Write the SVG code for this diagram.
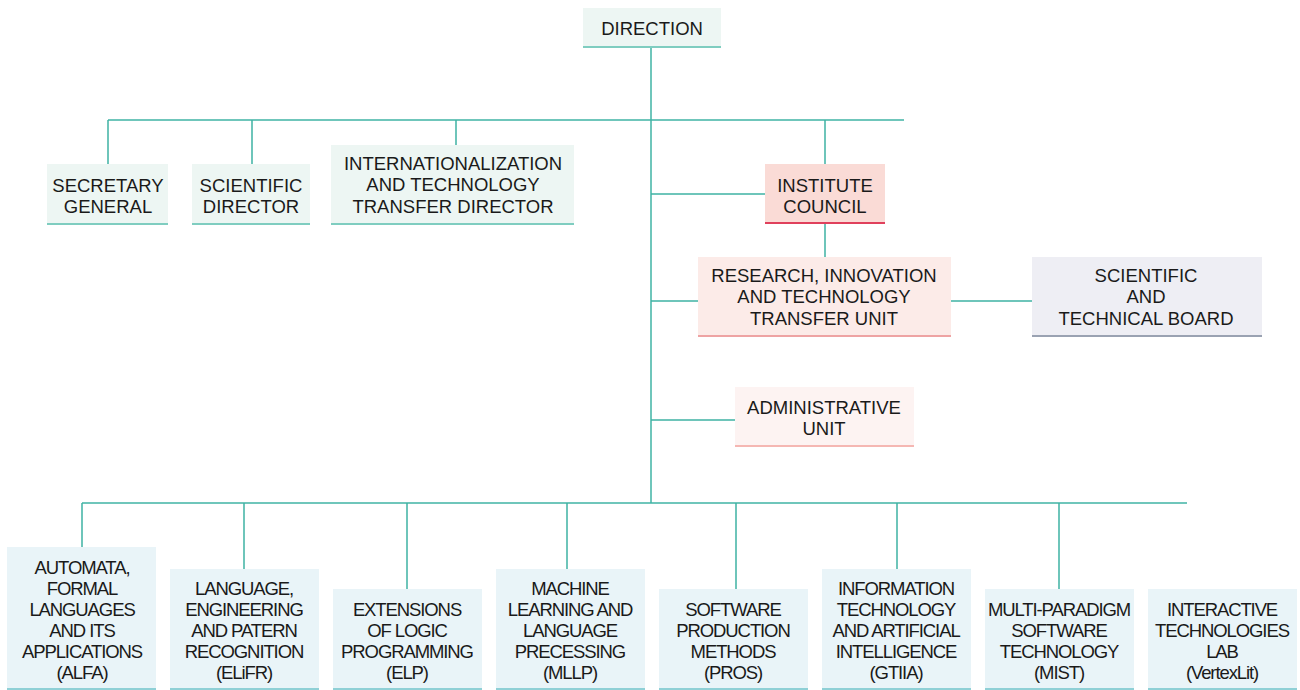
<svg xmlns="http://www.w3.org/2000/svg" width="1300" height="690" viewBox="0 0 1300 690">
<style>
text{font-family:"Liberation Sans",Arial,sans-serif;font-size:18.5px;fill:#1a1a1a;text-anchor:middle}
.g rect{fill:#edf6f3}.g line{stroke:#7fcdc0;stroke-width:2}
.b rect{fill:#e9f4f8}.b line{stroke:#8fd0d6;stroke-width:2}
.b text{letter-spacing:-1.1px}
.ic rect{fill:#fadbd6}.ic line{stroke:#e0405c;stroke-width:2}
.ru rect{fill:#fcebe8}.ru line{stroke:#eea3a3;stroke-width:2}
.au rect{fill:#fdf3f2}.au line{stroke:#f5b7b3;stroke-width:2}
.sb rect{fill:#eeeef4}.sb line{stroke:#9aa2b2;stroke-width:2}
#connectors path{fill:none;stroke:#3fb3a4;stroke-width:1.5}
</style>
<g id="connectors">
<path d="M651 47V503"/>
<path d="M108 120H904"/>
<path d="M108 120V165M252 120V165M456 120V145M825 120V165"/>
<path d="M651 194H769M825 223V257M651 301H703M951 301H1040M651 420H740"/>
<path d="M82 503H1187"/>
<path d="M82 503V547M244 503V569M407 503V589M567 503V569M736 503V589M897 503V569M1059 503V589"/>
</g>
<g id="direction" class="g"><rect x="583" y="8" width="138" height="39"/><line x1="583" y1="47" x2="721" y2="47"/><text x="652" y="35">DIRECTION</text></g>
<g id="secretary" class="g"><rect x="47" y="164" width="121" height="60"/><line x1="47" y1="224" x2="168" y2="224"/><text x="108" y="192">SECRETARY</text><text x="108" y="213">GENERAL</text></g>
<g id="scidir" class="g"><rect x="192" y="164" width="118" height="60"/><line x1="192" y1="224" x2="310" y2="224"/><text x="251" y="192">SCIENTIFIC</text><text x="251" y="213">DIRECTOR</text></g>
<g id="intl" class="g"><rect x="331" y="145" width="243" height="79"/><line x1="331" y1="224" x2="574" y2="224"/><text x="453" y="170">INTERNATIONALIZATION</text><text x="453" y="191">AND TECHNOLOGY</text><text x="453" y="213">TRANSFER DIRECTOR</text></g>
<g id="council" class="ic"><rect x="765" y="164" width="120" height="59"/><line x1="765" y1="223" x2="885" y2="223"/><text x="825" y="192">INSTITUTE</text><text x="825" y="213">COUNCIL</text></g>
<g id="research" class="ru"><rect x="698" y="257" width="253" height="79"/><line x1="698" y1="336" x2="951" y2="336"/><text x="824" y="282">RESEARCH, INNOVATION</text><text x="824" y="303">AND TECHNOLOGY</text><text x="824" y="325">TRANSFER UNIT</text></g>
<g id="board" class="sb"><rect x="1032" y="257" width="230" height="79"/><line x1="1032" y1="336" x2="1262" y2="336"/><text x="1146" y="282">SCIENTIFIC</text><text x="1146" y="303">AND</text><text x="1146" y="325">TECHNICAL BOARD</text></g>
<g id="admin" class="au"><rect x="735" y="387" width="179" height="59"/><line x1="735" y1="446" x2="914" y2="446"/><text x="824" y="414">ADMINISTRATIVE</text><text x="824" y="435">UNIT</text></g>
<g id="alfa" class="b"><rect x="7" y="547" width="149" height="143"/><line x1="7" y1="689" x2="156" y2="689"/><text x="82" y="574">AUTOMATA,</text><text x="82" y="595">FORMAL</text><text x="82" y="616">LANGUAGES</text><text x="82" y="637">AND ITS</text><text x="82" y="658">APPLICATIONS</text><text x="82" y="679">(ALFA)</text></g>
<g id="elifr" class="b"><rect x="170" y="569" width="149" height="121"/><line x1="170" y1="689" x2="319" y2="689"/><text x="244" y="595">LANGUAGE,</text><text x="244" y="616">ENGINEERING</text><text x="244" y="637">AND PATERN</text><text x="244" y="658">RECOGNITION</text><text x="244" y="679">(ELiFR)</text></g>
<g id="elp" class="b"><rect x="333" y="589" width="149" height="101"/><line x1="333" y1="689" x2="482" y2="689"/><text x="407" y="616">EXTENSIONS</text><text x="407" y="637">OF LOGIC</text><text x="407" y="658">PROGRAMMING</text><text x="407" y="679">(ELP)</text></g>
<g id="mllp" class="b"><rect x="496" y="569" width="149" height="121"/><line x1="496" y1="689" x2="645" y2="689"/><text x="570" y="595">MACHINE</text><text x="570" y="616">LEARNING AND</text><text x="570" y="637">LANGUAGE</text><text x="570" y="658">PRECESSING</text><text x="570" y="679">(MLLP)</text></g>
<g id="pros" class="b"><rect x="659" y="589" width="149" height="101"/><line x1="659" y1="689" x2="808" y2="689"/><text x="733" y="616">SOFTWARE</text><text x="733" y="637">PRODUCTION</text><text x="733" y="658">METHODS</text><text x="733" y="679">(PROS)</text></g>
<g id="gtiia" class="b"><rect x="822" y="569" width="149" height="121"/><line x1="822" y1="689" x2="971" y2="689"/><text x="896" y="595">INFORMATION</text><text x="896" y="616">TECHNOLOGY</text><text x="896" y="637">AND ARTIFICIAL</text><text x="896" y="658">INTELLIGENCE</text><text x="896" y="679">(GTIIA)</text></g>
<g id="mist" class="b"><rect x="985" y="589" width="149" height="101"/><line x1="985" y1="689" x2="1134" y2="689"/><text x="1059" y="616">MULTI-PARADIGM</text><text x="1059" y="637">SOFTWARE</text><text x="1059" y="658">TECHNOLOGY</text><text x="1059" y="679">(MIST)</text></g>
<g id="vertexlit" class="b"><rect x="1148" y="589" width="149" height="101"/><line x1="1148" y1="689" x2="1297" y2="689"/><text x="1222" y="616">INTERACTIVE</text><text x="1222" y="637">TECHNOLOGIES</text><text x="1222" y="658">LAB</text><text x="1222" y="679">(VertexLit)</text></g>
</svg>
